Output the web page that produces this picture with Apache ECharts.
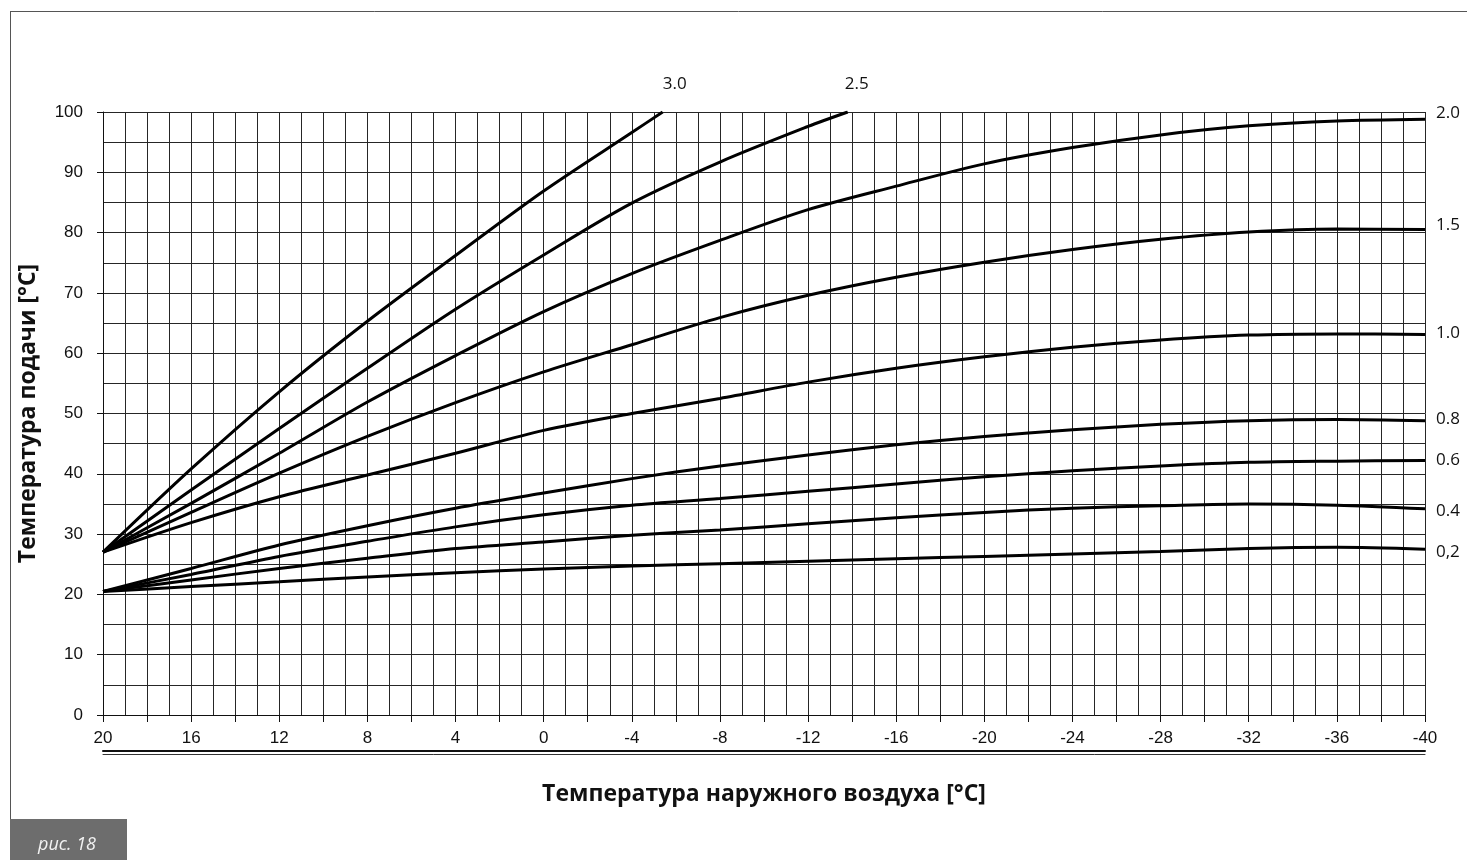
<!DOCTYPE html>
<html><head><meta charset="utf-8">
<script src="https://cdn.jsdelivr.net/npm/echarts@6/dist/echarts.min.js"></script>
<style>html,body{margin:0;padding:0;background:#fff}#chart{width:1467px;height:860px}</style>
</head><body><div id="chart"></div>
<script>
// ---- data ----
const outdoorTemps = [20,16,12,8,4,0,-4,-8,-12,-16,-20,-24,-28,-32,-36,-40];
const curve02 = [20.5,21.3,22.1,22.9,23.6,24.2,24.7,25.1,25.5,25.9,26.3,26.7,27.1,27.6,27.8,27.5];
const curve04 = [20.5,22.4,24.3,26.0,27.6,28.7,29.8,30.7,31.7,32.7,33.6,34.3,34.7,35.0,34.8,34.2];
const curve06 = [20.5,23.3,26.3,28.8,31.2,33.2,34.8,35.9,37.1,38.3,39.5,40.5,41.3,41.9,42.1,42.2];
const curve08 = [20.5,24.3,28.2,31.4,34.3,36.8,39.2,41.3,43.1,44.8,46.2,47.3,48.2,48.8,49.0,48.8];
const curve10 = [27,31.9,36.2,39.8,43.4,47.2,50.0,52.5,55.2,57.5,59.4,61.0,62.2,63.0,63.2,63.1];
const curve15 = [27,33.6,40.1,46.2,51.8,56.9,61.4,65.9,69.6,72.6,75.1,77.2,78.9,80.1,80.6,80.5];
const curve20 = [27,35.1,43.4,51.9,59.6,66.9,73.2,78.7,83.8,87.7,91.4,94.1,96.2,97.7,98.5,98.8];
const outdoorTemps25 = [20,16,12,8,4,0,-4,-8,-12,-13.8];
const curve25 = [27,37.3,47.5,57.5,67.3,76.3,84.9,91.7,97.6,100];
const outdoorTemps30 = [20,16,12,8,4,0,-4,-5.4];
const curve30 = [27,40.8,53.6,65.3,76.2,86.9,96.6,100];

const curveNames = ['3.0','2.5','2.0','1.5','1.0','0.8','0.6','0.4','0,2'];
const curveX = [outdoorTemps30, outdoorTemps25, outdoorTemps, outdoorTemps, outdoorTemps, outdoorTemps, outdoorTemps, outdoorTemps, outdoorTemps];
const curveY = [curve30, curve25, curve20, curve15, curve10, curve08, curve06, curve04, curve02];

const xTitle = 'Температура наружного воздуха [°C]';
const yTitle = 'Температура подачи [°C]';
const figLabel = 'рис. 18';

// ---- label placement styles ----
const labelPlace = {
  '3.0': {position:'top', distance:19, offset:[12,0]},
  '2.5': {position:'top', distance:19, offset:[9,0]},
  '2.0': {position:'right', distance:11, offset:[0,-6]},
  '1.5': {position:'right', distance:11, offset:[0,-4]},
  '1.0': {position:'right', distance:11, offset:[0,-1]},
  '0.8': {position:'right', distance:11, offset:[0,-2]},
  '0.6': {position:'right', distance:11, offset:[0,0]},
  '0.4': {position:'right', distance:11, offset:[0,2]},
  '0,2': {position:'right', distance:11, offset:[0,3]}
};

const gridColor = '#262626';
const tickFont = 'Liberation Sans, Arial, sans-serif';
const myriadLike = 'Open Sans, Noto Sans, sans-serif';

const series = curveNames.map((name, k) => {
  const xs = curveX[k], ys = curveY[k];
  const last = xs.length - 1;
  const lp = labelPlace[name];
  return {
    type: 'line', name: name, xAxisIndex: 0, yAxisIndex: 0,
    data: xs.map((x, i) => [x, ys[i]]),
    smooth: 0.3,
    symbol: 'circle', symbolSize: 0, showSymbol: true,
    lineStyle: {color: '#000', width: 3},
    itemStyle: {color: '#000'},
    label: {
      show: true, position: lp.position, distance: lp.distance, offset: lp.offset,
      formatter: p => p.dataIndex === last ? name : '',
      fontFamily: myriadLike, fontSize: 17, color: '#111'
    },
    silent: true, z: 5
  };
});

const chart = echarts.init(document.getElementById('chart'), null, {renderer: 'canvas'});
chart.setOption({
  animation: false,
  backgroundColor: '#fff',
  grid: {left: 103, right: 42, top: 112, bottom: 145, containLabel: false},
  xAxis: [
    {type:'value', min:-40, max:20, interval:1, inverse:true,
     axisLine:{show:false}, axisTick:{show:false}, axisLabel:{show:false},
     splitLine:{show:true, lineStyle:{color:gridColor, width:1}}},
    {type:'value', min:-40, max:20, interval:2, inverse:true, position:'bottom',
     axisLine:{show:true, onZero:false, lineStyle:{color:'#111', width:1}},
     axisTick:{show:true, length:7, lineStyle:{color:'#111', width:1}},
     axisLabel:{formatter: v => (v % 4 === 0 ? String(v) : ''), margin:15, fontSize:17, fontFamily:tickFont, color:'#111'},
     splitLine:{show:false},
     name: xTitle, nameLocation:'middle', nameGap:68,
     nameTextStyle:{fontFamily:myriadLike, fontWeight:'bold', fontSize:23, color:'#111'}},
    {type:'value', min:-40, max:20, inverse:true, position:'bottom', offset:36,
     axisLine:{show:true, onZero:false, lineStyle:{color:'#111', width:2}},
     axisTick:{show:false}, axisLabel:{show:false}, splitLine:{show:false}},
    {type:'value', min:-40, max:20, inverse:true, position:'bottom', offset:39,
     axisLine:{show:true, onZero:false, lineStyle:{color:'#333', width:1}},
     axisTick:{show:false}, axisLabel:{show:false}, splitLine:{show:false}}
  ],
  yAxis: [
    {type:'value', min:0, max:100, interval:5,
     axisLine:{show:false}, axisTick:{show:false}, axisLabel:{show:false},
     splitLine:{show:true, lineStyle:{color:gridColor, width:1}}},
    {type:'value', min:0, max:100, interval:10, position:'left',
     axisLine:{show:true, onZero:false, lineStyle:{color:'#111', width:1}},
     axisTick:{show:true, length:6, lineStyle:{color:'#111'}},
     axisLabel:{margin:20, fontSize:17, fontFamily:tickFont, color:'#111'},
     splitLine:{show:false},
     name: yTitle, nameLocation:'middle', nameGap:63, nameRotate:90,
     nameTextStyle:{fontFamily:myriadLike, fontWeight:'bold', fontSize:23, color:'#111'}}
  ],
  graphic: [
    {type:'line', shape:{x1:10.5, y1:11, x2:10.5, y2:819}, style:{stroke:'#555', lineWidth:1}, silent:true},
    {type:'line', shape:{x1:10, y1:11.5, x2:1467, y2:11.5}, style:{stroke:'#555', lineWidth:1}, silent:true},
    {type:'rect', shape:{x:10, y:819, width:117, height:41}, style:{fill:'#6d6d6d'}, silent:true},
    {type:'text', x:67, y:845, style:{text:figLabel, fill:'#f2f2f2', font:'italic 18px "Open Sans", "Noto Sans", sans-serif', textAlign:'center', textVerticalAlign:'middle'}, silent:true}
  ],
  series: series
});
</script>
</body></html>
